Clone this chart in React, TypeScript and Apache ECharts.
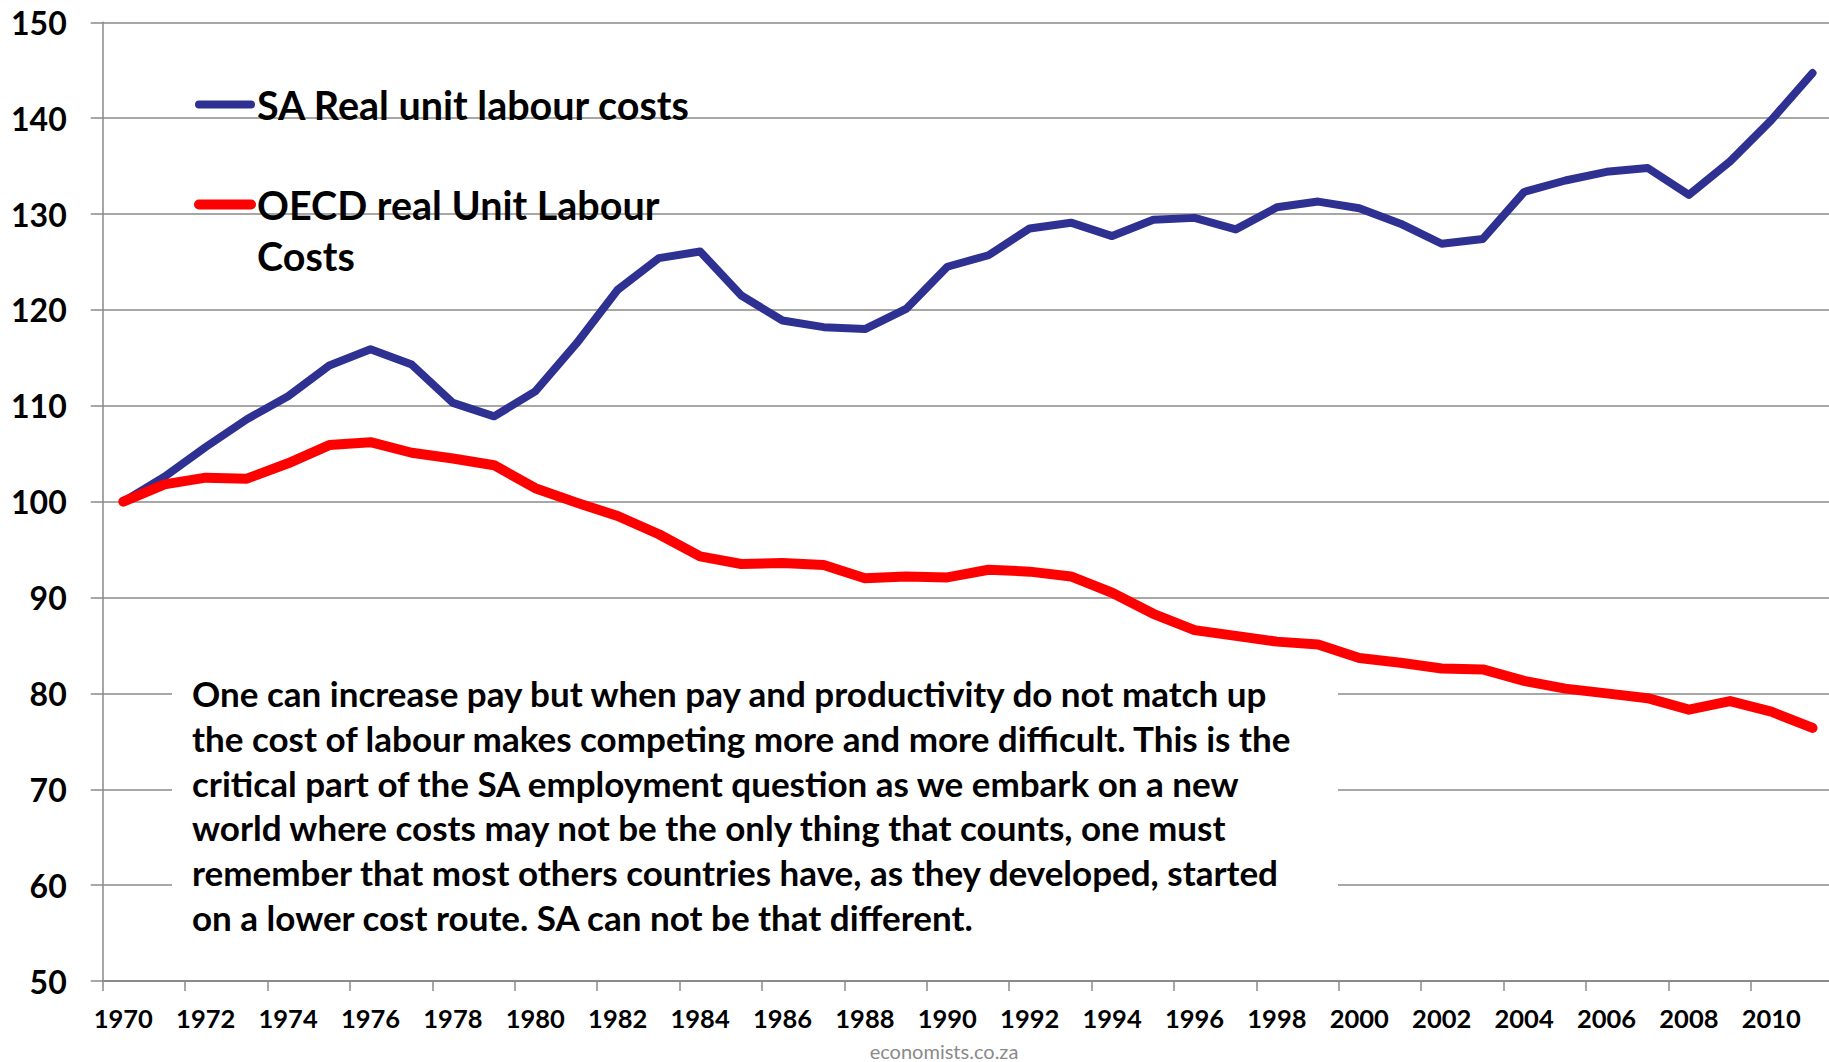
import React, { useEffect, useRef } from "react";
import * as echarts from "echarts";

const years = [
  "1970","1971","1972","1973","1974","1975","1976","1977","1978","1979",
  "1980","1981","1982","1983","1984","1985","1986","1987","1988","1989",
  "1990","1991","1992","1993","1994","1995","1996","1997","1998","1999",
  "2000","2001","2002","2003","2004","2005","2006","2007","2008","2009",
  "2010","2011",
];

const saRULC = [
  100, 102.6, 105.7, 108.6, 111.0, 114.2, 115.9, 114.3, 110.3, 108.9,
  111.5, 116.5, 122.1, 125.4, 126.1, 121.5, 118.9, 118.2, 118.0, 120.1,
  124.5, 125.7, 128.5, 129.1, 127.7, 129.4, 129.6, 128.4, 130.7, 131.3,
  130.6, 129.0, 126.9, 127.4, 132.3, 133.5, 134.4, 134.8, 132.0, 135.5,
  139.8, 144.7,
];

const oecdRULC = [
  100, 101.8, 102.5, 102.4, 104.0, 105.9, 106.2, 105.1, 104.5, 103.8,
  101.4, 99.9, 98.5, 96.6, 94.3, 93.5, 93.6, 93.4, 92.0, 92.2,
  92.1, 92.9, 92.7, 92.2, 90.5, 88.3, 86.6, 86.0, 85.4, 85.1,
  83.7, 83.2, 82.6, 82.5, 81.3, 80.5, 80.0, 79.5, 78.3, 79.2,
  78.1, 76.4,
];

const seriesNames = ["SA Real unit labour costs", "OECD real Unit Labour Costs"];
const legendLines = [["SA Real unit labour costs"], ["OECD real Unit Labour", "Costs"]];

const noteLines = [
  "One can increase pay but when pay and productivity do not match up",
  "the cost of labour makes competing more and more difficult. This is the",
  "critical part of the SA employment question as we embark on a new",
  "world where costs may not be the only thing that counts, one must",
  "remember that most others countries have, as they developed, started",
  "on a lower cost route. SA can not be that different.",
];

const yTicks = { min: 50, max: 150, interval: 10 };

const BLUE = "#2E3192";
const RED = "#FF0000";
const GRID = "#8a8a8a";
const FONT = "Lato, 'Noto Sans', sans-serif";

export default function App() {
  const ref = useRef<HTMLDivElement>(null);

  useEffect(() => {
    if (!ref.current) return;
    const chart = echarts.init(ref.current, undefined, { renderer: "svg" });

    const graphics: any[] = [];
    graphics.push({
      type: "rect",
      z: 1,
      shape: { x: 172, y: 655, width: 1166, height: 275 },
      style: { fill: "#ffffff" },
    });
    noteLines.forEach((t, i) => {
      graphics.push({
        type: "text",
        z: 3,
        x: 192,
        y: 693 + i * 44.8,
        style: {
          text: t,
          font: `bold 35px ${FONT}`,
          fill: "#000",
          textVerticalAlign: "middle",
          verticalAlign: "middle",
          textAlign: "left",
        },
      });
    });
    const legendColors = [BLUE, RED];
    const legendWidths = [8, 10];
    const legendY = [104.5, 204.5];
    legendLines.forEach((lines, si) => {
      graphics.push({
        type: "line",
        z: 3,
        shape: { x1: 199, y1: legendY[si], x2: 251, y2: legendY[si] },
        style: { stroke: legendColors[si], lineWidth: legendWidths[si], lineCap: "round" },
      });
      lines.forEach((t, li) => {
        graphics.push({
          type: "text",
          z: 3,
          x: 257,
          y: legendY[si] + li * 51,
          style: {
            text: t,
            font: `bold 39.5px ${FONT}`,
            fill: "#000",
            verticalAlign: "middle",
            textVerticalAlign: "middle",
            textAlign: "left",
          },
        });
      });
    });
    graphics.push({
      type: "text",
      z: 3,
      x: 944,
      y: 1051,
      style: {
        text: "economists.co.za",
        font: `20px ${FONT}`,
        fill: "#8a8a8a",
        textAlign: "center",
        verticalAlign: "middle",
        textVerticalAlign: "middle",
      },
    });

    chart.setOption({
      animation: false,
      backgroundColor: "#ffffff",
      grid: {
        left: 102.7,
        top: 22.3,
        width: 1730.4,
        height: 958.7,
        containLabel: false,
        outerBoundsMode: "none",
      },
      xAxis: {
        type: "category",
        data: years,
        boundaryGap: true,
        axisLine: { show: true, lineStyle: { color: GRID, width: 2 } },
        axisTick: { show: true, interval: 1, length: 10, lineStyle: { color: GRID, width: 1.5 } },
        axisLabel: {
          interval: 1,
          margin: 37,
          fontFamily: FONT,
          fontWeight: "bold",
          fontSize: 25.5,
          color: "#000",
          verticalAlign: "middle",
        },
        splitLine: { show: false },
      },
      yAxis: {
        type: "value",
        min: yTicks.min,
        max: yTicks.max,
        interval: yTicks.interval,
        axisLine: { show: true, lineStyle: { color: GRID, width: 1.5 } },
        axisTick: { show: true, length: 12, lineStyle: { color: GRID, width: 1.5 } },
        axisLabel: {
          margin: 36,
          fontFamily: FONT,
          fontWeight: "bold",
          fontSize: 32,
          color: "#000",
        },
        splitLine: { show: true, lineStyle: { color: GRID, width: 1.5 } },
      },
      series: [
        {
          name: seriesNames[0],
          type: "line",
          data: saRULC,
          symbol: "none",
          z: 2,
          lineStyle: { color: BLUE, width: 8, cap: "round", join: "round" },
        },
        {
          name: seriesNames[1],
          type: "line",
          data: oecdRULC,
          symbol: "none",
          z: 2,
          lineStyle: { color: RED, width: 10, cap: "round", join: "round" },
        },
      ],
      graphic: graphics,
    });

    return () => chart.dispose();
  }, []);

  return (
    <div
      ref={ref}
      style={{ position: "absolute", left: 0, top: 0, width: 1829, height: 1062 }}
    />
  );
}
